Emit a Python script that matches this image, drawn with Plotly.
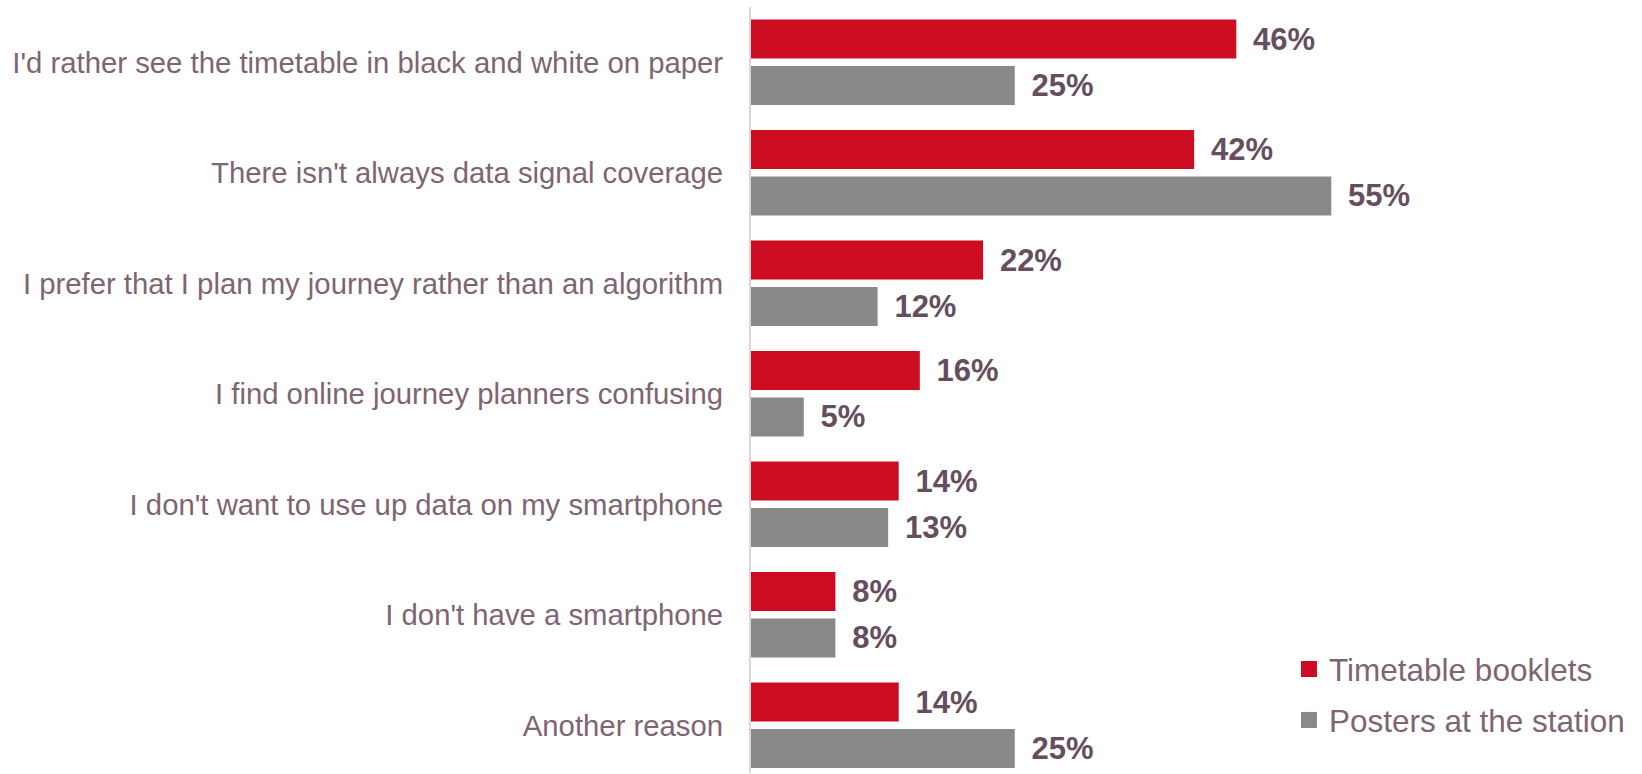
import plotly.graph_objects as go

# Survey reasons, top to bottom
reasons = [
    "I'd rather see the timetable in black and white on paper",
    "There isn't always data signal coverage",
    "I prefer that I plan my journey rather than an algorithm",
    "I find online journey planners confusing",
    "I don't want to use up data on my smartphone",
    "I don't have a smartphone",
    "Another reason",
]
booklets = [46, 42, 22, 16, 14, 8, 14]
posters = [25, 55, 12, 5, 13, 8, 25]

series_names = ["Timetable booklets", "Posters at the station"]
series_values = [booklets, posters]
series_colors = ["#CC0C20", "#898989"]

LABEL_COLOR = "#7F6474"
VALUE_COLOR = "#654F5E"
FONT = "Liberation Sans, Arial, sans-serif"
PAD = "\u00a0\u2006"  # small gap between bar end and its value label

fig = go.Figure()
for name, vals, col in zip(series_names, series_values, series_colors):
    fig.add_trace(go.Bar(
        y=reasons,
        x=vals,
        orientation="h",
        name=name,
        marker=dict(color=col, line=dict(width=0)),
        text=[f"{PAD}{v}%" for v in vals],
        textposition="outside",
        textfont=dict(family=FONT, size=31, color=VALUE_COLOR, weight="bold"),
        constraintext="none",
        cliponaxis=False,
        showlegend=False,
        hoverinfo="skip",
    ))

# Legend entries with square swatches
for i, (name, col) in enumerate(zip(series_names, series_colors)):
    fig.add_trace(go.Scatter(
        x=[None], y=[None],
        mode="markers",
        name=name,
        legendgroup=f"g{i}",
        marker=dict(symbol="square", size=16, color=col),
        showlegend=True,
    ))

fig.update_layout(
    width=1642,
    height=774,
    margin=dict(l=751, r=0, t=7, b=1, autoexpand=False),
    paper_bgcolor="white",
    plot_bgcolor="white",
    barmode="group",
    bargap=0.159,
    bargroupgap=0.16,
    font=dict(family=FONT, color=LABEL_COLOR),
    legend=dict(
        xref="container", yref="container",
        x=0.785, y=0.1705,
        xanchor="left", yanchor="top",
        font=dict(family=FONT, size=31.5, color=LABEL_COLOR),
        bgcolor="rgba(0,0,0,0)",
        traceorder="grouped",
        tracegroupgap=7,
        itemsizing="trace",
    ),
    xaxis=dict(
        range=[0, 84.45],
        visible=False,
        showgrid=False,
        zeroline=False,
    ),
    yaxis=dict(
        categoryorder="array",
        categoryarray=reasons,
        range=[6.432, -0.5],
        showgrid=False,
        zeroline=False,
        showline=True,
        linecolor="#DDD5D9",
        linewidth=2,
        ticks="",
        ticklabelstandoff=20,
        tickfont=dict(family=FONT, size=29.3, color=LABEL_COLOR),
    ),
)

fig.write_html("out.html")
